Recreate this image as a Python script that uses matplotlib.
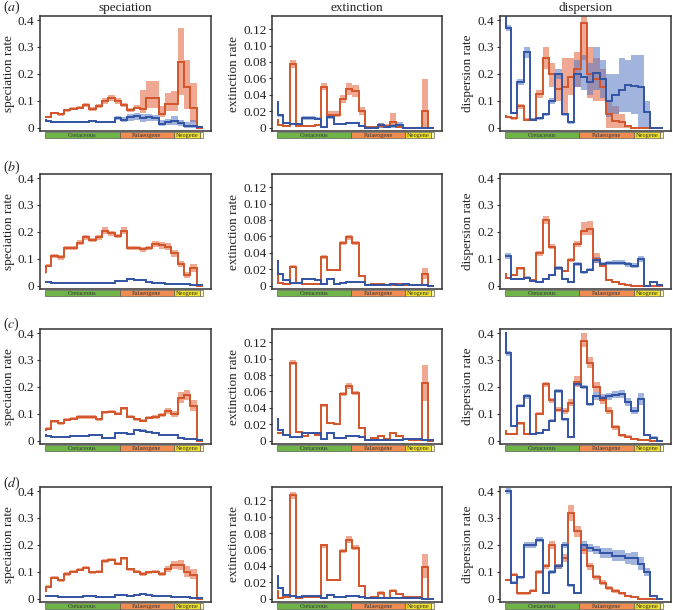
import numpy as np
import matplotlib
matplotlib.use("Agg")
import matplotlib.pyplot as plt
from matplotlib.patches import Rectangle
import matplotlib.transforms as mtransforms

plt.rcParams['font.family'] = ['Liberation Serif', 'DejaVu Serif']
plt.rcParams['mathtext.fontset'] = 'stix'

# time axis: Ma elapsed since 125 Ma (left = oldest). first tiny bin = start spike
edges = [0.3, 0.9, 5, 10, 15, 20, 25, 30, 35, 40, 45, 50, 55, 60, 65, 70, 75, 80,
         85, 90, 95, 100, 105, 110, 115, 120, 125]
periods = ["Cretaceous", "Palaeogene", "Neogene", ""]
period_start = [0, 59, 102, 122.4]
period_end = [59, 102, 122.4, 125]
period_colors = ["#6EB446", "#F08C50", "#F0E128", "#FFF6B0"]

col_titles = ["speciation", "extinction", "dispersion"]
ylabels = ["speciation rate", "extinction rate", "dispersion rate"]
row_letters = ["a", "b", "c", "d"]
rate_ticks = [0, 0.1, 0.2, 0.3, 0.4]
rate_labels = ["0", "0.1", "0.2", "0.3", "0.4"]
ext_ticks = [0, 0.02, 0.04, 0.06, 0.08, 0.10, 0.12]
ext_labels = ["0", "0.02", "0.04", "0.06", "0.08", "0.10", "0.12"]

# ---------------- row (a) ----------------
a_spec_red = [0.040,0.040,0.055,0.050,0.065,0.070,0.075,0.085,0.070,0.080,0.100,0.110,0.100,0.085,0.065,0.075,0.070,0.110,0.110,0.050,0.090,0.090,0.245,0.150,0.075,0.000]
a_spec_red_lo = [0.035,0.035,0.050,0.045,0.060,0.065,0.070,0.078,0.064,0.073,0.090,0.098,0.090,0.077,0.058,0.068,0.055,0.075,0.075,0.040,0.062,0.062,0.120,0.070,0.020,0.000]
a_spec_red_hi = [0.045,0.045,0.060,0.055,0.070,0.076,0.081,0.092,0.077,0.088,0.112,0.122,0.112,0.093,0.073,0.083,0.140,0.175,0.175,0.080,0.130,0.135,0.370,0.250,0.165,0.000]
a_spec_blue = [0.028,0.026,0.022,0.020,0.020,0.020,0.022,0.022,0.024,0.022,0.020,0.022,0.036,0.030,0.040,0.042,0.035,0.040,0.036,0.015,0.020,0.026,0.018,0.005,0.008,0.002]
a_spec_blue_lo = [0.024,0.022,0.018,0.016,0.016,0.016,0.018,0.018,0.020,0.018,0.016,0.018,0.028,0.022,0.026,0.030,0.022,0.026,0.024,0.006,0.010,0.012,0.008,0.000,0.000,0.000]
a_spec_blue_hi = [0.032,0.030,0.026,0.024,0.024,0.024,0.026,0.026,0.028,0.026,0.024,0.026,0.044,0.040,0.052,0.055,0.050,0.052,0.048,0.028,0.032,0.045,0.030,0.020,0.030,0.004]

a_ext_red = [0.010,0.003,0.002,0.078,0.002,0.0015,0.002,0.003,0.050,0.016,0.016,0.035,0.047,0.045,0.020,0.0005,0.0005,0.002,0.002,0.007,0.001,0.000,0.000,0.000,0.020,0.000]
a_ext_red_lo = [0.010,0.002,0.001,0.073,0.001,0.001,0.001,0.002,0.046,0.013,0.013,0.030,0.040,0.038,0.015,0.000,0.000,0.000,0.000,0.002,0.000,0.000,0.000,0.000,0.000,0.000]
a_ext_red_hi = [0.010,0.004,0.003,0.083,0.003,0.002,0.003,0.004,0.055,0.020,0.020,0.040,0.055,0.052,0.025,0.001,0.001,0.006,0.004,0.018,0.002,0.000,0.000,0.000,0.059,0.000]
a_ext_blue = [0.031,0.015,0.006,0.005,0.005,0.012,0.012,0.011,0.001,0.013,0.004,0.004,0.006,0.006,0.002,0.000,0.000,0.003,0.001,0.002,0.003,0.000,0.000,0.000,0.000,0.000]
a_ext_blue_lo = [0.031,0.013,0.005,0.004,0.004,0.010,0.010,0.009,0.000,0.011,0.003,0.003,0.005,0.005,0.001,0.000,0.000,0.000,0.000,0.000,0.000,0.000,0.000,0.000,0.000,0.000]
a_ext_blue_hi = [0.031,0.017,0.007,0.006,0.006,0.014,0.014,0.013,0.002,0.015,0.005,0.005,0.007,0.007,0.003,0.001,0.001,0.006,0.003,0.005,0.007,0.001,0.000,0.000,0.000,0.000]

a_disp_red = [0.045,0.040,0.035,0.080,0.030,0.030,0.125,0.260,0.200,0.145,0.150,0.190,0.220,0.390,0.200,0.180,0.150,0.050,0.025,0.020,0.005,0.000,0.000,0.000,0.000,0.000]
a_disp_red_lo = [0.045,0.035,0.030,0.070,0.025,0.025,0.110,0.220,0.150,0.100,0.050,0.120,0.150,0.250,0.110,0.100,0.100,0.000,0.000,0.000,0.000,0.000,0.000,0.000,0.000,0.000]
a_disp_red_hi = [0.045,0.045,0.040,0.090,0.035,0.035,0.140,0.300,0.240,0.200,0.260,0.260,0.280,0.430,0.300,0.260,0.220,0.100,0.080,0.050,0.010,0.000,0.000,0.000,0.000,0.000]
a_disp_blue = [0.450,0.370,0.055,0.170,0.280,0.030,0.035,0.050,0.100,0.200,0.050,0.020,0.200,0.190,0.170,0.205,0.180,0.100,0.120,0.140,0.160,0.155,0.150,0.060,0.000,0.000]
a_disp_blue_lo = [0.450,0.360,0.050,0.160,0.260,0.025,0.030,0.045,0.090,0.180,0.045,0.015,0.150,0.140,0.120,0.140,0.110,0.040,0.050,0.060,0.060,0.050,0.000,0.000,0.000,0.000]
a_disp_blue_hi = [0.450,0.380,0.060,0.180,0.300,0.035,0.040,0.055,0.110,0.220,0.055,0.025,0.250,0.270,0.240,0.300,0.250,0.200,0.200,0.260,0.250,0.270,0.270,0.100,0.000,0.000]

# ---------------- row (b) ----------------
b_spec_red = [0.050,0.075,0.110,0.105,0.140,0.140,0.160,0.180,0.170,0.180,0.205,0.195,0.185,0.205,0.140,0.140,0.135,0.140,0.155,0.150,0.145,0.120,0.080,0.040,0.065,0.000]
b_spec_red_lo = [0.045,0.068,0.102,0.097,0.132,0.132,0.151,0.171,0.161,0.171,0.193,0.186,0.176,0.193,0.132,0.132,0.127,0.131,0.143,0.138,0.133,0.108,0.069,0.030,0.050,0.000]
b_spec_red_hi = [0.055,0.082,0.118,0.113,0.148,0.148,0.169,0.189,0.179,0.189,0.217,0.204,0.194,0.217,0.148,0.148,0.143,0.149,0.167,0.162,0.157,0.132,0.091,0.050,0.080,0.000]
b_spec_blue = [0.015,0.013,0.010,0.009,0.009,0.010,0.010,0.011,0.011,0.012,0.009,0.009,0.018,0.017,0.025,0.021,0.020,0.013,0.012,0.012,0.008,0.008,0.005,0.005,0.003,0.003]
b_spec_blue_lo = [0.013,0.011,0.008,0.007,0.007,0.008,0.008,0.009,0.009,0.010,0.007,0.007,0.016,0.015,0.022,0.018,0.017,0.011,0.010,0.010,0.006,0.006,0.003,0.003,0.001,0.001]
b_spec_blue_hi = [0.017,0.015,0.012,0.011,0.011,0.012,0.012,0.013,0.013,0.014,0.011,0.011,0.020,0.019,0.028,0.024,0.023,0.015,0.014,0.014,0.010,0.010,0.007,0.007,0.005,0.005]

b_ext_red = [0.015,0.003,0.002,0.023,0.003,0.002,0.002,0.002,0.035,0.019,0.019,0.052,0.059,0.052,0.012,0.001,0.002,0.002,0.001,0.001,0.002,0.001,0.0005,0.0005,0.014,0.000]
b_ext_red_lo = [0.015,0.002,0.001,0.021,0.002,0.001,0.001,0.001,0.033,0.018,0.018,0.049,0.056,0.049,0.011,0.000,0.001,0.001,0.000,0.000,0.001,0.000,0.000,0.000,0.008,0.000]
b_ext_red_hi = [0.015,0.004,0.003,0.025,0.004,0.003,0.003,0.003,0.037,0.020,0.020,0.055,0.062,0.055,0.013,0.002,0.003,0.003,0.002,0.002,0.003,0.002,0.001,0.001,0.022,0.000]
b_ext_blue = [0.030,0.014,0.007,0.003,0.003,0.008,0.008,0.007,0.002,0.008,0.002,0.003,0.005,0.005,0.004,0.001,0.001,0.001,0.001,0.002,0.001,0.002,0.001,0.001,0.001,0.000]
b_ext_blue_lo = [0.030,0.013,0.006,0.002,0.002,0.007,0.007,0.006,0.001,0.007,0.001,0.002,0.004,0.004,0.003,0.000,0.000,0.000,0.000,0.001,0.000,0.001,0.000,0.000,0.000,0.000]
b_ext_blue_hi = [0.030,0.015,0.008,0.004,0.004,0.009,0.009,0.008,0.003,0.009,0.003,0.004,0.006,0.006,0.005,0.002,0.002,0.002,0.002,0.003,0.002,0.003,0.002,0.002,0.002,0.001]

b_disp_red = [0.045,0.030,0.040,0.065,0.030,0.020,0.120,0.245,0.145,0.065,0.055,0.095,0.155,0.205,0.210,0.100,0.075,0.020,0.015,0.008,0.002,0.000,0.000,0.000,0.000,0.000]
b_disp_red_lo = [0.045,0.026,0.036,0.060,0.026,0.016,0.112,0.230,0.135,0.060,0.050,0.088,0.145,0.190,0.190,0.085,0.068,0.016,0.012,0.005,0.000,0.000,0.000,0.000,0.000,0.000]
b_disp_red_hi = [0.045,0.034,0.044,0.070,0.034,0.024,0.128,0.260,0.155,0.070,0.060,0.102,0.165,0.235,0.240,0.120,0.082,0.024,0.018,0.011,0.004,0.000,0.000,0.000,0.000,0.000]
b_disp_blue = [0.110,0.110,0.025,0.025,0.030,0.018,0.015,0.025,0.040,0.065,0.025,0.015,0.080,0.050,0.060,0.095,0.080,0.085,0.085,0.085,0.080,0.075,0.100,0.000,0.013,0.002]
b_disp_blue_lo = [0.100,0.100,0.020,0.020,0.025,0.013,0.011,0.020,0.035,0.058,0.020,0.011,0.073,0.045,0.054,0.085,0.072,0.077,0.076,0.076,0.071,0.065,0.087,0.000,0.009,0.000]
b_disp_blue_hi = [0.120,0.120,0.030,0.030,0.035,0.023,0.019,0.030,0.045,0.072,0.030,0.019,0.087,0.055,0.066,0.105,0.088,0.093,0.094,0.094,0.089,0.085,0.112,0.000,0.017,0.004]

# ---------------- row (c) ----------------
c_spec_red = [0.040,0.045,0.072,0.065,0.078,0.082,0.088,0.088,0.088,0.080,0.105,0.108,0.100,0.120,0.090,0.080,0.075,0.085,0.088,0.095,0.110,0.100,0.160,0.170,0.130,0.000]
c_spec_red_lo = [0.040,0.040,0.066,0.059,0.072,0.076,0.082,0.082,0.082,0.074,0.099,0.102,0.094,0.113,0.084,0.074,0.069,0.079,0.081,0.087,0.098,0.090,0.140,0.150,0.110,0.000]
c_spec_red_hi = [0.040,0.050,0.078,0.071,0.084,0.088,0.094,0.094,0.094,0.086,0.111,0.114,0.106,0.127,0.096,0.086,0.081,0.091,0.095,0.103,0.122,0.110,0.180,0.190,0.150,0.000]
c_spec_blue = [0.020,0.018,0.015,0.014,0.015,0.016,0.017,0.018,0.020,0.021,0.012,0.012,0.030,0.028,0.025,0.040,0.038,0.032,0.028,0.022,0.020,0.020,0.012,0.005,0.008,0.003]
c_spec_blue_lo = [0.018,0.016,0.013,0.012,0.013,0.014,0.015,0.016,0.018,0.019,0.010,0.010,0.027,0.025,0.022,0.036,0.034,0.029,0.025,0.019,0.017,0.017,0.009,0.003,0.005,0.001]
c_spec_blue_hi = [0.022,0.020,0.017,0.016,0.017,0.018,0.019,0.020,0.022,0.023,0.014,0.014,0.033,0.031,0.028,0.044,0.042,0.035,0.031,0.025,0.023,0.023,0.015,0.007,0.011,0.005]

c_ext_red = [0.010,0.010,0.007,0.095,0.011,0.006,0.009,0.007,0.043,0.021,0.020,0.057,0.067,0.058,0.016,0.001,0.003,0.006,0.002,0.009,0.006,0.002,0.001,0.001,0.070,0.000]
c_ext_red_lo = [0.010,0.009,0.006,0.092,0.010,0.005,0.008,0.006,0.041,0.020,0.019,0.055,0.063,0.056,0.015,0.000,0.002,0.005,0.001,0.008,0.005,0.001,0.000,0.000,0.048,0.000]
c_ext_red_hi = [0.010,0.011,0.008,0.098,0.012,0.007,0.010,0.008,0.045,0.022,0.021,0.059,0.070,0.060,0.017,0.002,0.004,0.007,0.003,0.010,0.007,0.003,0.002,0.002,0.092,0.000]
c_ext_blue = [0.027,0.013,0.007,0.004,0.004,0.009,0.009,0.009,0.002,0.010,0.003,0.003,0.006,0.006,0.004,0.001,0.001,0.001,0.001,0.001,0.001,0.002,0.002,0.002,0.001,0.001]
c_ext_blue_lo = [0.027,0.012,0.006,0.003,0.003,0.008,0.008,0.008,0.001,0.009,0.002,0.002,0.005,0.005,0.003,0.000,0.000,0.000,0.000,0.000,0.000,0.001,0.001,0.001,0.000,0.000]
c_ext_blue_hi = [0.027,0.014,0.008,0.005,0.005,0.010,0.010,0.010,0.003,0.011,0.004,0.004,0.007,0.007,0.005,0.002,0.002,0.002,0.002,0.002,0.002,0.003,0.003,0.003,0.002,0.002]

c_disp_red = [0.035,0.025,0.025,0.065,0.025,0.025,0.100,0.210,0.150,0.115,0.110,0.140,0.220,0.370,0.290,0.200,0.150,0.110,0.050,0.020,0.015,0.008,0.003,0.001,0.000,0.000]
c_disp_red_lo = [0.035,0.020,0.020,0.060,0.020,0.020,0.095,0.200,0.140,0.105,0.100,0.130,0.200,0.350,0.270,0.180,0.135,0.100,0.040,0.015,0.010,0.005,0.001,0.000,0.000,0.000]
c_disp_red_hi = [0.035,0.030,0.030,0.070,0.030,0.030,0.105,0.220,0.160,0.125,0.120,0.155,0.240,0.400,0.310,0.220,0.165,0.125,0.060,0.025,0.020,0.011,0.005,0.002,0.000,0.000]
c_disp_blue = [0.400,0.325,0.055,0.130,0.165,0.025,0.028,0.040,0.075,0.185,0.080,0.015,0.210,0.200,0.135,0.165,0.160,0.165,0.170,0.175,0.145,0.110,0.155,0.020,0.012,0.000]
c_disp_blue_lo = [0.400,0.315,0.050,0.125,0.155,0.022,0.025,0.036,0.070,0.178,0.075,0.012,0.202,0.192,0.128,0.150,0.148,0.152,0.157,0.160,0.130,0.098,0.132,0.016,0.008,0.000]
c_disp_blue_hi = [0.400,0.335,0.060,0.135,0.175,0.028,0.031,0.044,0.080,0.192,0.085,0.018,0.218,0.208,0.142,0.180,0.172,0.178,0.183,0.190,0.160,0.125,0.178,0.024,0.016,0.000]

# ---------------- row (d) ----------------
d_spec_red = [0.030,0.045,0.078,0.068,0.092,0.100,0.108,0.115,0.098,0.100,0.140,0.145,0.130,0.150,0.110,0.100,0.092,0.098,0.100,0.092,0.110,0.125,0.125,0.100,0.090,0.000]
d_spec_red_lo = [0.030,0.039,0.072,0.062,0.086,0.094,0.102,0.109,0.092,0.094,0.134,0.139,0.124,0.144,0.104,0.094,0.086,0.092,0.094,0.085,0.100,0.110,0.105,0.080,0.075,0.000]
d_spec_red_hi = [0.030,0.051,0.084,0.074,0.098,0.106,0.114,0.121,0.104,0.106,0.146,0.151,0.136,0.156,0.116,0.106,0.098,0.104,0.106,0.099,0.120,0.140,0.145,0.120,0.110,0.000]
d_spec_blue = [0.012,0.011,0.009,0.008,0.008,0.008,0.008,0.009,0.009,0.008,0.005,0.005,0.015,0.013,0.012,0.015,0.018,0.015,0.012,0.012,0.011,0.008,0.007,0.005,0.003,0.002]
d_spec_blue_lo = [0.010,0.009,0.007,0.006,0.006,0.006,0.006,0.007,0.007,0.006,0.003,0.003,0.013,0.011,0.010,0.013,0.016,0.013,0.010,0.010,0.009,0.006,0.005,0.003,0.001,0.000]
d_spec_blue_hi = [0.014,0.013,0.011,0.010,0.010,0.010,0.010,0.011,0.011,0.010,0.007,0.007,0.017,0.015,0.014,0.017,0.020,0.017,0.014,0.014,0.013,0.010,0.009,0.007,0.005,0.004]

d_ext_red = [0.009,0.001,0.002,0.126,0.001,0.002,0.002,0.002,0.065,0.023,0.023,0.058,0.072,0.062,0.015,0.001,0.002,0.007,0.001,0.010,0.006,0.002,0.002,0.002,0.039,0.000]
d_ext_red_lo = [0.009,0.000,0.001,0.122,0.000,0.001,0.001,0.001,0.062,0.022,0.022,0.056,0.068,0.059,0.014,0.000,0.001,0.005,0.000,0.008,0.005,0.001,0.001,0.001,0.025,0.000]
d_ext_red_hi = [0.009,0.002,0.003,0.130,0.002,0.003,0.003,0.003,0.067,0.024,0.024,0.060,0.076,0.065,0.016,0.002,0.003,0.009,0.002,0.012,0.007,0.003,0.003,0.003,0.054,0.000]
d_ext_blue = [0.028,0.013,0.005,0.003,0.002,0.003,0.003,0.003,0.001,0.005,0.002,0.002,0.003,0.003,0.002,0.001,0.001,0.001,0.001,0.001,0.001,0.001,0.001,0.001,0.000,0.000]
d_ext_blue_lo = [0.028,0.012,0.004,0.002,0.001,0.002,0.002,0.002,0.000,0.004,0.001,0.001,0.002,0.002,0.001,0.000,0.000,0.000,0.000,0.000,0.000,0.000,0.000,0.000,0.000,0.000]
d_ext_blue_hi = [0.028,0.014,0.006,0.004,0.003,0.004,0.004,0.004,0.002,0.006,0.003,0.003,0.004,0.004,0.003,0.002,0.002,0.002,0.002,0.002,0.002,0.002,0.002,0.002,0.001,0.001]

d_disp_red = [0.070,0.070,0.090,0.020,0.020,0.030,0.100,0.120,0.200,0.120,0.150,0.320,0.250,0.180,0.120,0.080,0.060,0.040,0.030,0.020,0.010,0.005,0.000,0.000,0.000,0.000]
d_disp_red_lo = [0.070,0.065,0.085,0.015,0.015,0.025,0.092,0.110,0.185,0.110,0.135,0.290,0.230,0.165,0.108,0.070,0.050,0.032,0.022,0.014,0.005,0.001,0.000,0.000,0.000,0.000]
d_disp_red_hi = [0.070,0.075,0.095,0.025,0.025,0.035,0.108,0.130,0.215,0.130,0.165,0.350,0.270,0.195,0.132,0.090,0.070,0.048,0.038,0.026,0.015,0.009,0.000,0.000,0.000,0.000]
d_disp_blue = [0.400,0.400,0.060,0.080,0.200,0.200,0.220,0.020,0.100,0.120,0.200,0.050,0.020,0.200,0.190,0.180,0.170,0.170,0.160,0.160,0.150,0.150,0.130,0.100,0.010,0.000]
d_disp_blue_lo = [0.400,0.390,0.055,0.075,0.190,0.190,0.210,0.016,0.092,0.110,0.190,0.045,0.016,0.185,0.175,0.165,0.150,0.150,0.140,0.140,0.130,0.125,0.105,0.085,0.006,0.000]
d_disp_blue_hi = [0.400,0.410,0.065,0.085,0.210,0.210,0.230,0.024,0.108,0.130,0.210,0.055,0.024,0.215,0.205,0.195,0.190,0.190,0.180,0.180,0.170,0.175,0.155,0.115,0.014,0.000]

panels = {
    ("a", 0): (a_spec_red, a_spec_red_lo, a_spec_red_hi, a_spec_blue, a_spec_blue_lo, a_spec_blue_hi),
    ("a", 1): (a_ext_red, a_ext_red_lo, a_ext_red_hi, a_ext_blue, a_ext_blue_lo, a_ext_blue_hi),
    ("a", 2): (a_disp_red, a_disp_red_lo, a_disp_red_hi, a_disp_blue, a_disp_blue_lo, a_disp_blue_hi),
    ("b", 0): (b_spec_red, b_spec_red_lo, b_spec_red_hi, b_spec_blue, b_spec_blue_lo, b_spec_blue_hi),
    ("b", 1): (b_ext_red, b_ext_red_lo, b_ext_red_hi, b_ext_blue, b_ext_blue_lo, b_ext_blue_hi),
    ("b", 2): (b_disp_red, b_disp_red_lo, b_disp_red_hi, b_disp_blue, b_disp_blue_lo, b_disp_blue_hi),
    ("c", 0): (c_spec_red, c_spec_red_lo, c_spec_red_hi, c_spec_blue, c_spec_blue_lo, c_spec_blue_hi),
    ("c", 1): (c_ext_red, c_ext_red_lo, c_ext_red_hi, c_ext_blue, c_ext_blue_lo, c_ext_blue_hi),
    ("c", 2): (c_disp_red, c_disp_red_lo, c_disp_red_hi, c_disp_blue, c_disp_blue_lo, c_disp_blue_hi),
    ("d", 0): (d_spec_red, d_spec_red_lo, d_spec_red_hi, d_spec_blue, d_spec_blue_lo, d_spec_blue_hi),
    ("d", 1): (d_ext_red, d_ext_red_lo, d_ext_red_hi, d_ext_blue, d_ext_blue_lo, d_ext_blue_hi),
    ("d", 2): (d_disp_red, d_disp_red_lo, d_disp_red_hi, d_disp_blue, d_disp_blue_lo, d_disp_blue_hi),
}

RED_LINE = "#D2552B"
RED_BAND = "#E5714C"
BLUE_LINE = "#3354A3"
BLUE_BAND = "#5577C4"
FRAME = "#333333"

W, H = 673, 610
fig = plt.figure(figsize=(W / 100, H / 100), dpi=100)

col_left = [40, 272, 499.5]
col_width = [171, 170, 171.5]
row_top = [16, 174, 329, 487]
ax_h = 115
letter_y = [7.5, 167, 324, 483]

for r, letter in enumerate(row_letters):
    for c in range(3):
        x0 = col_left[c] / W
        y0 = 1 - (row_top[r] + ax_h) / H
        ax = fig.add_axes([x0, y0, col_width[c] / W, ax_h / H])
        rm, rlo, rhi, bm, blo, bhi = panels[(letter, c)]
        ax.stairs(rhi, edges, baseline=rlo, fill=True, color=RED_BAND, alpha=0.6, lw=0)
        ax.stairs(bhi, edges, baseline=blo, fill=True, color=BLUE_BAND, alpha=0.55, lw=0)
        ax.stairs(rm, edges, baseline=None, color=RED_LINE, lw=1.4)
        ax.stairs(bm, edges, baseline=None, color=BLUE_LINE, lw=1.4)

        ax.set_xlim(-4, 131.3)
        if c == 1:
            ax.set_ylim(-0.004, 0.136)
            ax.set_yticks(ext_ticks)
            ax.set_yticklabels(ext_labels)
        else:
            ax.set_ylim(-0.012, 0.415)
            ax.set_yticks(rate_ticks)
            ax.set_yticklabels(rate_labels)
        ax.set_xticks([])
        ax.tick_params(axis='y', direction='out', length=2.5, width=0.8,
                       labelsize=9.5, pad=1.5, colors=FRAME, labelcolor="#222222")
        for sp in ax.spines.values():
            sp.set_color(FRAME)
            sp.set_linewidth(1.1)
        ax.set_ylabel(ylabels[c], fontsize=9.5, labelpad=2.0, color="#222222")
        if r == 0:
            ax.set_title(col_titles[c], fontsize=9.5, pad=3.5, color="#222222")

        # geological timescale bar below the plotting area
        trans = mtransforms.blended_transform_factory(ax.transData, ax.transAxes)
        for name, s, e, col in zip(periods, period_start, period_end, period_colors):
            ax.add_patch(Rectangle((s, -0.062), e - s, 0.055, transform=trans,
                                   facecolor=col, edgecolor="#444444", lw=0.4,
                                   clip_on=False))
            if name:
                ax.text((s + e) / 2, -0.035, name, transform=trans, fontsize=4.6,
                        ha='center', va='center', color="#333333", clip_on=False)

    fig.text(3 / W, 1 - letter_y[r] / H, r"($\mathit{%s}$)" % letter, fontsize=10,
             ha='left', va='center', color="#222222")

fig.savefig("out.png", dpi=100)
